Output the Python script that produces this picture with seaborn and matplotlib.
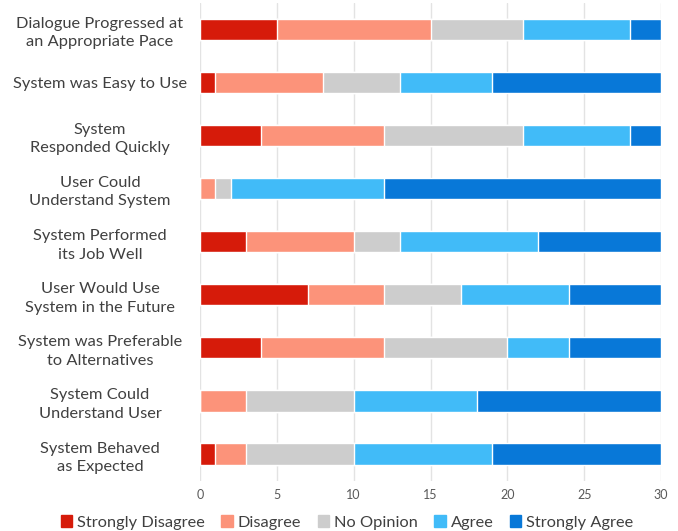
import numpy as np
import pandas as pd
import seaborn as sns
import matplotlib.pyplot as plt
from matplotlib.patches import Patch

questions = [
    'Dialogue Progressed at\nan Appropriate Pace',
    'System was Easy to Use',
    'System\nResponded Quickly',
    'User Could\nUnderstand System',
    'System Performed\nits Job Well',
    'User Would Use\nSystem in the Future',
    'System was Preferable\nto Alternatives',
    'System Could\nUnderstand User',
    'System Behaved\nas Expected',
]
responses = ['Strongly Disagree', 'Disagree', 'No Opinion', 'Agree', 'Strongly Agree']

strongly_disagree = [5, 1, 4, 0, 3, 7, 4, 0, 1]
disagree = [10, 7, 8, 1, 7, 5, 8, 3, 2]
no_opinion = [6, 5, 9, 1, 3, 5, 8, 7, 7]
agree = [7, 6, 7, 10, 9, 7, 4, 8, 9]
strongly_agree = [2, 11, 2, 18, 8, 6, 6, 12, 11]

colors = ['#D61B0A', '#FC937A', '#CDCDCD', '#41BBF8', '#0878D8']

sns.set_style('white')
plt.rcParams['font.family'] = ['Lato', 'DejaVu Sans']

counts = np.array([strongly_disagree, disagree, no_opinion, agree, strongly_agree])
cum = np.cumsum(counts, axis=0)

fig, ax = plt.subplots(figsize=(6.78, 5.31), dpi=100)

# draw cumulative totals from the widest down, so they look stacked
for i in range(len(responses) - 1, -1, -1):
    df = pd.DataFrame({'question': questions, 'value': cum[i]})
    sns.barplot(data=df, x='value', y='question', color=colors[i],
                width=0.4, saturation=1, ax=ax, orient='h')

ax.set_xlim(0, 30)
ax.set_xticks(range(0, 31, 5))
ax.set_ylim(8.5, -0.5)
ax.set_xlabel('')
ax.set_ylabel('')
ax.grid(axis='x', color='#E3E3E3', linewidth=1)
ax.set_axisbelow(True)
for s in ax.spines.values():
    s.set_visible(False)
ax.tick_params(axis='x', labelsize=9, colors='#595959', length=0, pad=6)
ax.tick_params(axis='y', labelsize=11.8, colors='#404040', length=0, pad=72)
for lbl in ax.get_yticklabels():
    lbl.set_horizontalalignment('center')
    lbl.set_multialignment('center')
    lbl.set_linespacing(1.4)

handles = [Patch(color=c, label=r) for c, r in zip(colors, responses)]
fig.legend(handles=handles, loc='lower center', ncol=5, frameon=False,
           fontsize=11.8, handlelength=0.7, handleheight=0.7,
           handletextpad=0.3, columnspacing=1.0, bbox_to_anchor=(0.512, -0.025),
           labelcolor='#404040')

plt.subplots_adjust(left=0.295, right=0.975, top=0.995, bottom=0.095)
plt.savefig('out.png', dpi=100)
